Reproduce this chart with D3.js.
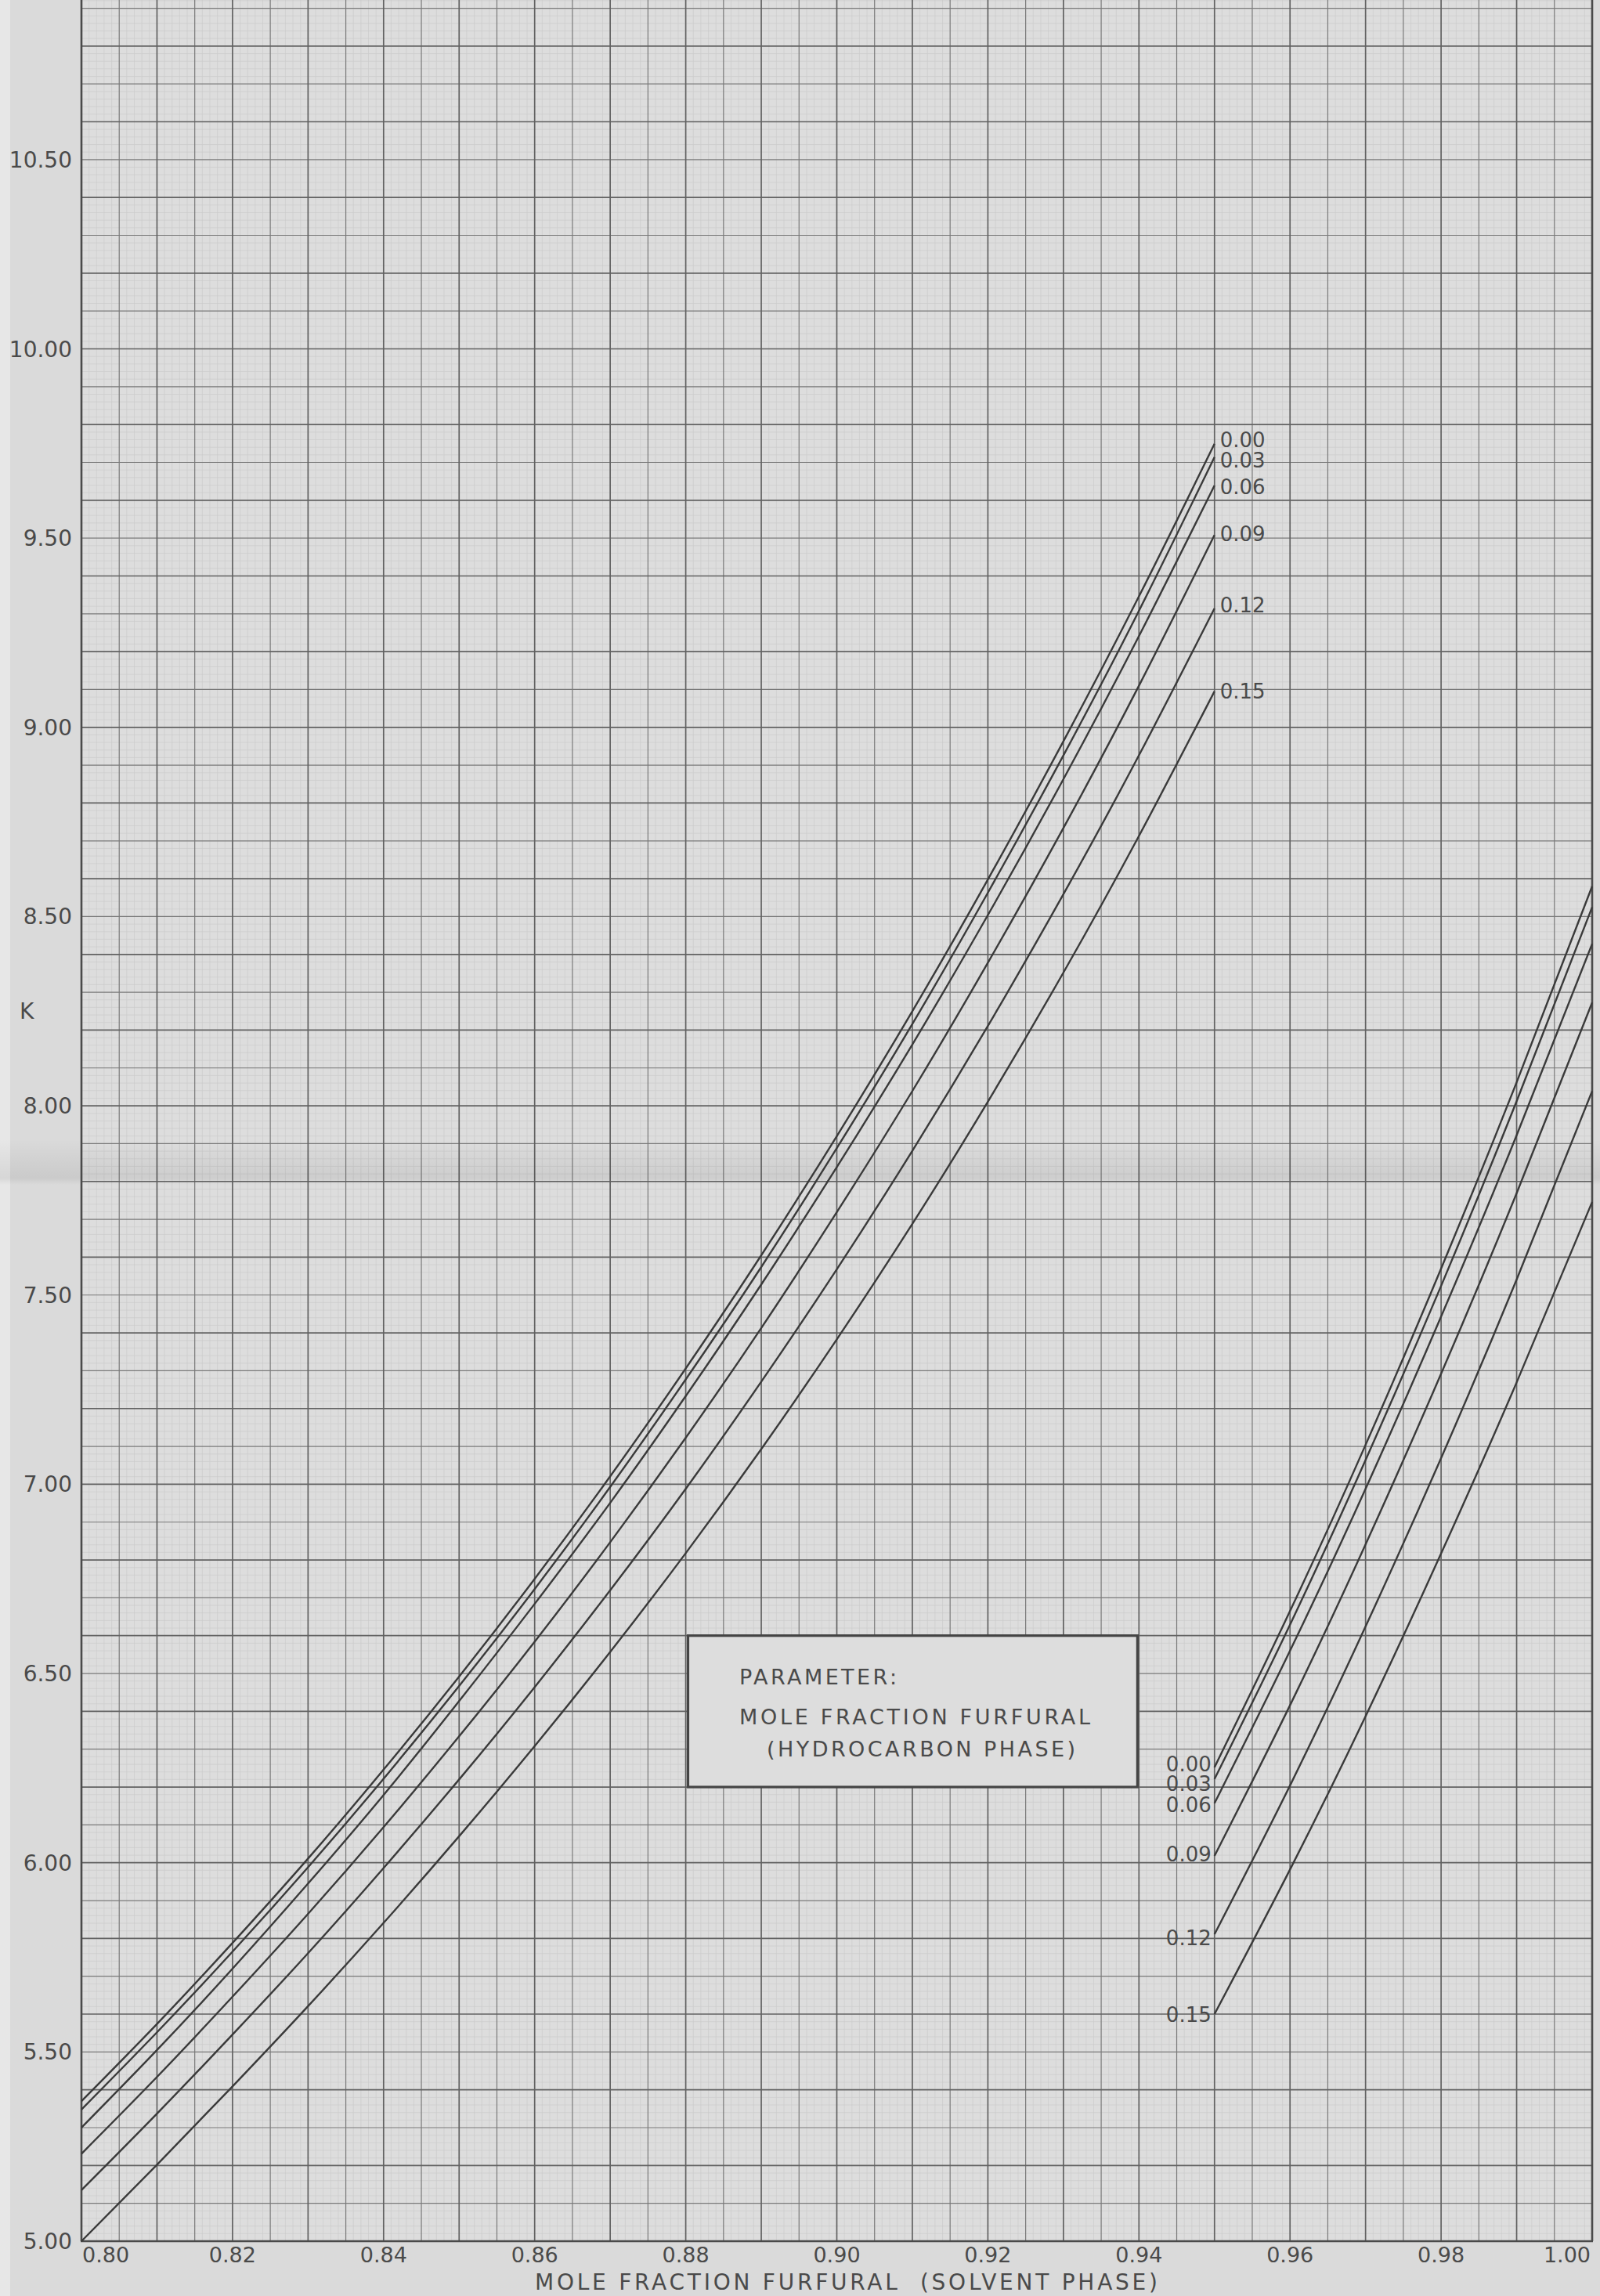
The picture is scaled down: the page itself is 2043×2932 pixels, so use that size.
<!DOCTYPE html>
<html><head><meta charset="utf-8">
<script src="https://cdn.jsdelivr.net/npm/d3@7"></script>
<style>html,body{margin:0;padding:0;background:#d9d9d9;} svg{display:block;}</style>
</head><body>
<svg id="chart" width="2043" height="2932"></svg>
<script>
// ---------------- data ----------------
const xLeft  = [0.80,0.81,0.82,0.83,0.84,0.85,0.86,0.87,0.88,0.89,0.90,0.91,0.92,0.93,0.94,0.95];
const xRight = [0.95,0.96,0.97,0.98,0.99,1.00];
const paramLabels = ["0.00","0.03","0.06","0.09","0.12","0.15"];

const k000L = [5.370,5.574,5.788,6.011,6.246,6.492,6.750,7.021,7.306,7.605,7.920,8.250,8.598,8.963,9.346,9.749];
const k003L = [5.348,5.552,5.765,5.988,6.222,6.467,6.723,6.993,7.277,7.574,7.888,8.216,8.563,8.926,9.308,9.714];
const k006L = [5.300,5.505,5.720,5.945,6.179,6.427,6.684,6.951,7.233,7.528,7.838,8.162,8.504,8.863,9.241,9.639];
const k009L = [5.231,5.434,5.646,5.865,6.094,6.334,6.584,6.847,7.123,7.413,7.719,8.039,8.378,8.734,9.110,9.508];
const k012L = [5.135,5.337,5.546,5.761,5.986,6.220,6.464,6.720,6.988,7.271,7.568,7.881,8.211,8.559,8.926,9.314];
const k015L = [5.000,5.202,5.409,5.621,5.841,6.070,6.308,6.557,6.818,7.093,7.383,7.688,8.011,8.352,8.713,9.095];

const k000R = [6.252,6.665,7.104,7.570,8.062,8.580];
const k003R = [6.221,6.629,7.064,7.524,8.012,8.525];
const k006R = [6.157,6.560,6.988,7.443,7.922,8.428];
const k009R = [6.018,6.416,6.841,7.292,7.769,8.273];
const k012R = [5.811,6.204,6.624,7.069,7.541,8.039];
const k015R = [5.600,5.982,6.387,6.817,7.269,7.746];

const xTickValues = [0.80,0.82,0.84,0.86,0.88,0.90,0.92,0.94,0.96,0.98,1.00];
const xTickLabels = ["0.80","0.82","0.84","0.86","0.88","0.90","0.92","0.94","0.96","0.98","1.00"];
const yTickValues = [5.0,5.5,6.0,6.5,7.0,7.5,8.0,8.5,9.0,9.5,10.0,10.5];
const yTickLabels = ["5.00","5.50","6.00","6.50","7.00","7.50","8.00","8.50","9.00","9.50","10.00","10.50"];

const xTitle = "MOLE FRACTION FURFURAL  (SOLVENT PHASE)";
const yTitle = "K";
const legendLines = ["PARAMETER:", "MOLE FRACTION FURFURAL", "(HYDROCARBON PHASE)"];

// ---------------- layout ----------------
const W = 2043, H = 2932;
const L = 104, R = 2033, B = 2862;
const unitK = 483.3; // px per 1.0 of K
const x = d3.scaleLinear().domain([0.80, 1.00]).range([L, R]);
const y = d3.scaleLinear().domain([5.0, 11.0]).range([B, B - 6 * unitK]);

const svg = d3.select("#chart");
const FONT = "'DejaVu Sans', 'Liberation Sans', sans-serif";
const INK = "#4a4a4a";

// paper
svg.append("rect").attr("x",0).attr("y",0).attr("width",W).attr("height",H).attr("fill","#dadada");
svg.append("rect").attr("x",0).attr("y",0).attr("width",13).attr("height",H).attr("fill","#e7e7e7");
svg.append("rect").attr("x",L).attr("y",0).attr("width",R-L).attr("height",B).attr("fill","#dddddd");

// fold shadow
const defs = svg.append("defs");
const g1 = defs.append("linearGradient").attr("id","fold").attr("x1",0).attr("y1",0).attr("x2",0).attr("y2",1);
g1.append("stop").attr("offset","0%").attr("stop-color","#000").attr("stop-opacity",0);
g1.append("stop").attr("offset","70%").attr("stop-color","#000").attr("stop-opacity",0.06);
g1.append("stop").attr("offset","85%").attr("stop-color","#000").attr("stop-opacity",0.07);
g1.append("stop").attr("offset","100%").attr("stop-color","#000").attr("stop-opacity",0);

// grid
const minorG = svg.append("g").attr("stroke","#cbcbcb").attr("stroke-width",0.7);
const midG = svg.append("g").attr("stroke","#7a7a7a").attr("stroke-width",1.2);
const heavyG = svg.append("g").attr("stroke","#626262").attr("stroke-width",1.7);
function pick(i) { return i % 10 === 0 ? heavyG : (i % 5 === 0 ? midG : minorG); }
for (let i = 0; i <= 200; i++) {
  const v = 0.80 + i * 0.001;
  pick(i).append("line").attr("x1", x(v)).attr("x2", x(v)).attr("y1", 0).attr("y2", B);
}
for (let j = 0; j <= 300; j++) {
  const v = 5.0 + j * 0.02;
  const py = y(v);
  if (py < -2) continue;
  pick(j).append("line").attr("x1", L).attr("x2", R).attr("y1", py).attr("y2", py);
}
midG.raise(); heavyG.raise();

svg.append("rect").attr("x",0).attr("y",1455).attr("width",W).attr("height",58).attr("fill","url(#fold)");

// border
svg.append("line").attr("x1",L).attr("x2",L).attr("y1",0).attr("y2",B).attr("stroke","#4a4a4a").attr("stroke-width",2.6);
svg.append("line").attr("x1",R).attr("x2",R).attr("y1",0).attr("y2",B).attr("stroke","#4a4a4a").attr("stroke-width",2.6);
svg.append("line").attr("x1",L-1).attr("x2",R+1).attr("y1",B).attr("y2",B).attr("stroke","#4a4a4a").attr("stroke-width",2.6);

// legend box
const bx0 = x(0.8803), bx1 = x(0.9398), by0 = y(6.60), by1 = y(6.20);
svg.append("rect").attr("x",bx0).attr("y",by0).attr("width",bx1-bx0).attr("height",by1-by0)
  .attr("fill","#dddddd").attr("stroke","#444").attr("stroke-width",3.2);
const lg = svg.append("g").attr("font-family",FONT).attr("font-size",27).attr("fill",INK);
lg.append("text").attr("x",944).attr("y",2151).attr("textLength",201).attr("lengthAdjust","spacing").text(legendLines[0]);
lg.append("text").attr("x",944).attr("y",2202).attr("textLength",448).attr("lengthAdjust","spacing").text(legendLines[1]);
lg.append("text").attr("x",979).attr("y",2243).attr("textLength",394).attr("lengthAdjust","spacing").text(legendLines[2]);

// curves
const line = d3.line().x(d => x(d[0])).y(d => y(d[1])).curve(d3.curveNatural);
const leftSeries = [k000L,k003L,k006L,k009L,k012L,k015L];
const rightSeries = [k000R,k003R,k006R,k009R,k012R,k015R];
const curves = svg.append("g").attr("fill","none").attr("stroke","#3a3a3a").attr("stroke-width",2.4);
leftSeries.forEach(s => curves.append("path").attr("d", line(xLeft.map((v,i)=>[v,s[i]]))));
rightSeries.forEach(s => curves.append("path").attr("d", line(xRight.map((v,i)=>[v,s[i]]))));

// parameter labels
const nudgeL = [-5, 4, 2, -1, -4, 0];
const nudgeR = [-4, 6, 2, -2, 5, 1];
const pl = svg.append("g").attr("font-family",FONT).attr("font-size",26).attr("fill",INK);
leftSeries.forEach((s,i) => {
  pl.append("text").attr("x", x(xLeft[xLeft.length-1]) + 7)
    .attr("y", y(s[s.length-1]) + nudgeL[i] + 9).text(paramLabels[i]);
});
rightSeries.forEach((s,i) => {
  pl.append("text").attr("x", x(xRight[0]) - 4).attr("text-anchor","end")
    .attr("y", y(s[0]) + nudgeR[i] + 9).text(paramLabels[i]);
});

// axes labels
const ax = svg.append("g").attr("font-family",FONT).attr("fill",INK);
xTickValues.forEach((v,i) => {
  let anchor = "middle", px = x(v);
  if (i === 0) { anchor = "start"; px = x(v) + 1; }
  if (i === xTickValues.length - 1) { anchor = "end"; px = x(v) - 2; }
  ax.append("text").attr("x", px).attr("y", B + 27).attr("font-size", 27)
    .attr("text-anchor", anchor).text(xTickLabels[i]);
});
yTickValues.forEach((v,i) => {
  ax.append("text").attr("x", 92).attr("y", y(v) + 10).attr("font-size", 28)
    .attr("text-anchor", "end").text(yTickLabels[i]);
});
ax.append("text").attr("x", 25).attr("y", y(8.25) + 10).attr("font-size", 28).text(yTitle);
ax.append("text").attr("x", 683).attr("y", 2924).attr("font-size", 28)
  .attr("textLength", 795).attr("lengthAdjust","spacing").style("white-space","pre").text(xTitle);
</script>
</body></html>
